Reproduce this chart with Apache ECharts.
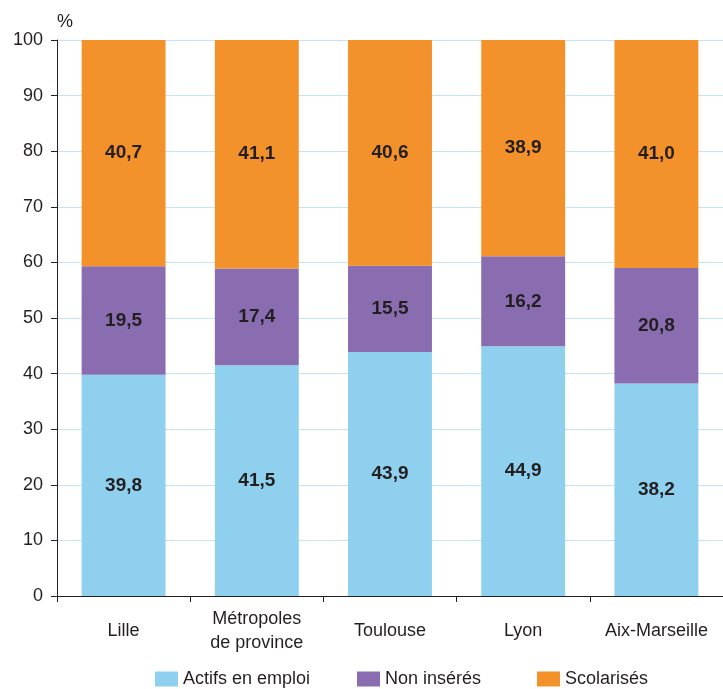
<!DOCTYPE html>
<html><head><meta charset="utf-8">
<script src="https://cdn.jsdelivr.net/npm/echarts@6/dist/echarts.min.js"></script>
<style>html,body{margin:0;padding:0;background:#fff}#c{width:723px;height:689px}</style>
</head><body><div id="c"></div>
<script>
const categories = ['Lille', 'Métropoles\nde province', 'Toulouse', 'Lyon', 'Aix-Marseille'];
const actifs = [39.8, 41.5, 43.9, 44.9, 38.2];
const nonInseres = [19.5, 17.4, 15.5, 16.2, 20.8];
const scolarises = [40.7, 41.1, 40.6, 38.9, 41.0];
const seriesNames = ['Actifs en emploi', 'Non insérés', 'Scolarisés'];
const colors = ['#8fd0ef', '#8a6db1', '#f3922a'];

const FONT = '"Liberation Sans", Arial, sans-serif';
const chart = echarts.init(document.getElementById('c'));
const lbl = {
  show: true, position: 'inside', fontFamily: FONT, fontWeight: 'bold', fontSize: 19, color: '#231f20',
  formatter: p => p.value.toFixed(1).replace('.', ',')
};
const mk = (name, data, i) => ({
  name, type: 'bar', stack: 'total', data, barWidth: '63%',
  itemStyle: { color: colors[i] }, label: lbl
});
const legendPos = [150, 352, 532];
chart.setOption({
  animation: false,
  textStyle: { fontFamily: FONT },
  grid: { left: 57, top: 40, width: 676, height: 556 },
  legend: seriesNames.map((n, i) => ({
    top: 665, left: legendPos[i], itemWidth: 23, itemHeight: 15, itemGap: 10,
    icon: 'rect', selectedMode: false,
    textStyle: { fontFamily: FONT, fontSize: 18, color: '#231f20' },
    data: [n]
  })),
  xAxis: {
    type: 'category', data: categories,
    axisLine: { lineStyle: { color: '#231f20', width: 1 } },
    axisTick: { show: true, interval: 0, length: 6, lineStyle: { color: '#231f20' } },
    axisLabel: { interval: 0, fontFamily: FONT, fontSize: 18, color: '#231f20', margin: 35, lineHeight: 24, verticalAlign: 'middle' }
  },
  yAxis: {
    type: 'value', min: 0, max: 100, interval: 10,
    name: '%', nameLocation: 'end', nameGap: 9,
    nameTextStyle: { fontFamily: FONT, fontSize: 18, color: '#231f20', align: 'left', padding: [0, 0, 0, 0] },
    axisLine: { show: true, lineStyle: { color: '#231f20', width: 1 } },
    axisTick: { show: true, length: 6, lineStyle: { color: '#231f20' } },
    axisLabel: { fontFamily: FONT, fontSize: 18, color: '#231f20', margin: 14 },
    splitLine: { show: true, lineStyle: { color: '#c4e3f3', width: 1 } }
  },
  series: [mk(seriesNames[0], actifs, 0), mk(seriesNames[1], nonInseres, 1), mk(seriesNames[2], scolarises, 2)]
});
</script>
</body></html>
